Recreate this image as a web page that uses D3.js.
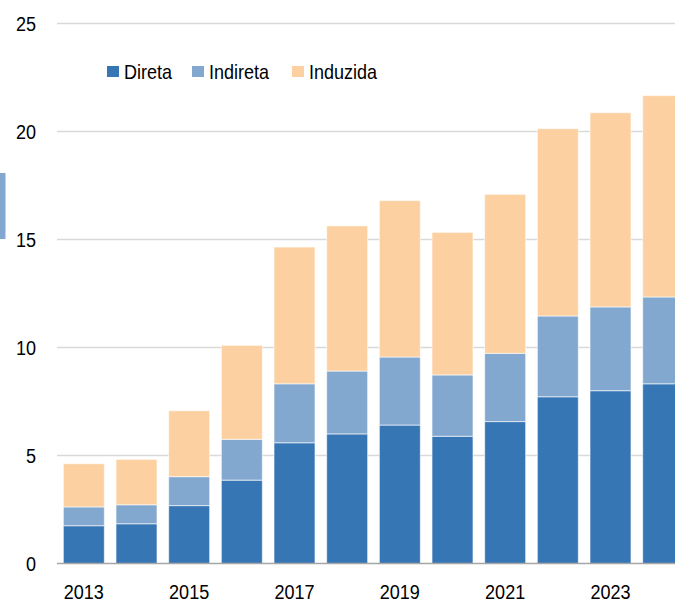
<!DOCTYPE html>
<html>
<head>
<meta charset="utf-8">
<script src="https://d3js.org/d3.v7.min.js"></script>
<style>
  * { margin: 0; padding: 0; }
  body { background: #fff; font-family: 'Liberation Sans', Arial, sans-serif; }
  svg { display: block; }
</style>
</head>
<body>
<div id="chart"></div>
<script>
  const years = ["2013","2014","2015","2016","2017","2018","2019","2020","2021","2022","2023","2024"];
  const direta = [1.75, 1.84, 2.68, 3.86, 5.59, 6.0, 6.41, 5.89, 6.57, 7.72, 8.0, 8.32];
  const indireta = [0.87, 0.88, 1.34, 1.89, 2.73, 2.91, 3.15, 2.84, 3.16, 3.74, 3.88, 4.02];
  const induzida = [2.0, 2.1, 3.05, 4.35, 6.33, 6.72, 7.24, 6.6, 7.36, 8.67, 8.99, 9.32];
  const seriesNames = ["Direta", "Indireta", "Induzida"];
  const colors = ["#3776b5", "#83a8cf", "#fcd0a0"];
  const yTicks = [0, 5, 10, 15, 20, 25];
  const xLabels = ["2013", "2015", "2017", "2019", "2021", "2023"];

  const W = 675, H = 603;
  const svg = d3.select("#chart").append("svg").attr("width", W).attr("height", H);

  const x = d3.scaleBand().domain(years).range([57.5, 689.5]).paddingInner(0.222).paddingOuter(0.111);
  const y = d3.scaleLinear().domain([0, 25]).range([563.5, 23.5]);

  // the source font is a squeezed Arial, so labels get a horizontal scale
  const squeeze = 0.86;

  // gridlines
  svg.append("g").selectAll("line")
    .data(yTicks.filter(d => d > 0))
    .join("line")
    .attr("x1", 57).attr("x2", W)
    .attr("y1", d => y(d)).attr("y2", d => y(d))
    .attr("stroke", "#d9d9d9").attr("stroke-width", 1.5);

  // stacked bars
  const rows = years.map((yr, i) => ({ year: yr, Direta: direta[i], Indireta: indireta[i], Induzida: induzida[i] }));
  const stack = d3.stack().keys(seriesNames)(rows);

  svg.append("g").selectAll("g")
    .data(stack)
    .join("g")
    .attr("fill", (d, i) => colors[i])
    .selectAll("rect")
    .data(d => d)
    .join("rect")
    .attr("x", d => x(d.data.year))
    .attr("width", x.bandwidth())
    .attr("y", d => y(d[1]))
    .attr("height", d => y(d[0]) - y(d[1]))
    .attr("stroke", "rgba(255,255,255,0.6)")
    .attr("stroke-width", 1);

  // baseline
  svg.append("line")
    .attr("x1", 57).attr("x2", W)
    .attr("y1", y(0)).attr("y2", y(0))
    .attr("stroke", "#a6a6a6").attr("stroke-width", 1.5);

  // y axis labels
  svg.append("g").selectAll("g")
    .data(yTicks)
    .join("g")
    .attr("transform", d => `translate(36,${y(d) + 7.5}) scale(${squeeze},1)`)
    .append("text")
    .attr("text-anchor", "end")
    .attr("font-size", "21px").attr("fill", "#000")
    .text(d => d);

  // x axis labels
  svg.append("g").selectAll("g")
    .data(xLabels)
    .join("g")
    .attr("transform", d => `translate(${x(d) + x.bandwidth() / 2},599) scale(${squeeze},1)`)
    .append("text")
    .attr("text-anchor", "middle")
    .attr("font-size", "21px").attr("fill", "#000")
    .text(d => d);

  // legend
  const legendX = [107, 192, 292];
  const lg = svg.append("g").selectAll("g")
    .data(seriesNames)
    .join("g")
    .attr("transform", (d, i) => `translate(${legendX[i]},66)`);
  lg.append("rect").attr("width", 12).attr("height", 11).attr("fill", (d, i) => colors[i]);
  lg.append("g").attr("transform", `translate(17,13) scale(0.9,1)`)
    .append("text").attr("font-size", "20px").attr("fill", "#000").text(d => d);

  // stray marker at left edge
  svg.append("rect").attr("x", 0).attr("y", 173).attr("width", 5.5).attr("height", 66).attr("fill", colors[1]);
</script>
</body>
</html>
